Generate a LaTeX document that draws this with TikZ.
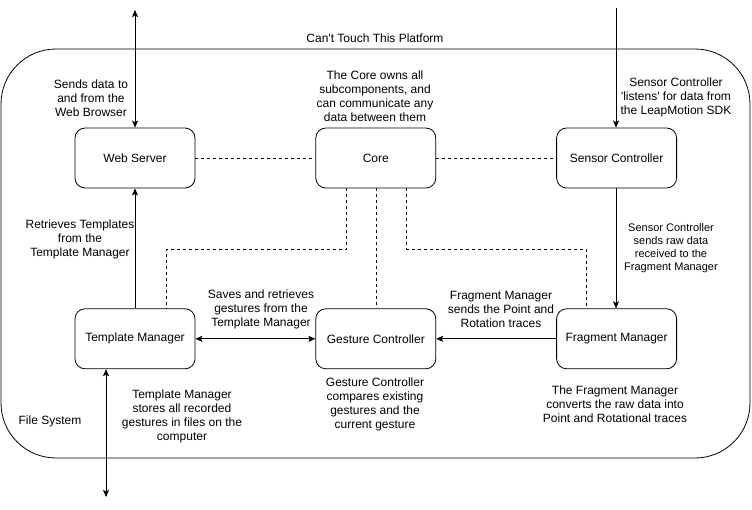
\documentclass[tikz,border=0pt]{standalone}
\usepackage{fontspec}
\setmainfont{Liberation Sans}
\usetikzlibrary{arrows.meta, positioning}

\tikzset{
  comp/.style={draw, rounded corners=10pt, minimum width=120pt, minimum height=60pt,
    font=\fontsize{12}{14}\selectfont},
  note/.style={align=center, font=\fontsize{12}{14}\selectfont},
  smallnote/.style={align=center, font=\fontsize{11}{13}\selectfont},
  link/.style={dash pattern=on 3pt off 3pt},
  flow/.style={-{Stealth[length=7pt, width=6pt, inset=1.5pt]}},
  bothflow/.style={{Stealth[length=7pt, width=6pt, inset=1.5pt]}-{Stealth[length=7pt, width=6pt, inset=1.5pt]}}
}

\begin{document}
\begin{tikzpicture}[x=1pt, y=-1pt, node distance=120pt, line width=0.8pt]
  \useasboundingbox (0,0) rectangle (752,509);

  % platform frame
  \draw[rounded corners=55pt] (1,49) rectangle (750,458);
  \node[note] (platform) at (375,38) {Can\textquotesingle t Touch This Platform};

  % components
  \node[comp] (web) at (135,158) {Web Server};
  \node[comp, right=of web] (core) {Core};
  \node[comp, right=of core] (sensor) {Sensor Controller};
  \node[comp, below=of web] (tmpl) {Template Manager};
  \node[comp, below=of core] (gest) {Gesture Controller};
  \node[comp, below=of sensor] (frag) {Fragment Manager};

  % outside ends
  \coordinate (browser) at (135,10);
  \coordinate (files) at (106,497);
  \coordinate (leap) at (616,8);

  % core links
  \draw[link] (web) -- (core);
  \draw[link] (core) -- (sensor);
  \draw[link] ([xshift=-29pt]core.south) -- ++(0,61) -| ([xshift=31pt]tmpl.north);
  \draw[link] ([xshift=1pt]core.south) -- ([xshift=1pt]gest.north);
  \draw[link] ([xshift=31pt]core.south) -- ++(0,61) -| ([xshift=-30pt]frag.north);

  % data flow
  \draw[bothflow] (browser) -- (web);
  \draw[flow] (tmpl) -- (web);
  \draw[bothflow] (files) -- (files |- tmpl.south);
  \draw[bothflow] (tmpl) -- (gest);
  \draw[flow] (frag) -- (gest);
  \draw[flow] (leap) -- (leap |- sensor.north);
  \draw[flow] (leap |- sensor.south) -- (leap |- frag.north);

  % notes
  \node[note] (sendnote) at (91,98) {Sends data to\\and from the\\Web Browser};
  \node[note] (corenote) at (375,96) {The Core owns all\\subcomponents, and\\can communicate any\\data between them};
  \node[note] (leapnote) at (676,97) {Sensor Controller\\\textquotesingle listens\textquotesingle{} for data from\\the LeapMotion SDK};
  \node[note] (retrnote) at (80,239) {Retrieves Templates\\from the\\Template Manager};
  \node[smallnote] (rawnote) at (671,248) {Sensor Controller\\sends raw data\\received to the\\Fragment Manager};
  \node[note] (savenote) at (261,309) {Saves and retrieves\\gestures from the\\Template Manager};
  \node[note] (tracenote) at (501,309) {Fragment Manager\\sends the Point and\\Rotation traces};
  \node[note] (storenote) at (182,416) {Template Manager\\stores all recorded\\gestures in files on the\\computer};
  \node[note] (filesys) at (50,421) {File System};
  \node[note] (gestnote) at (375,404) {Gesture Controller\\compares existing\\gestures and the\\current gesture};
  \node[note] (fragnote) at (615,404) {The Fragment Manager\\converts the raw data into\\Point and Rotational traces};
\end{tikzpicture}
\end{document}
